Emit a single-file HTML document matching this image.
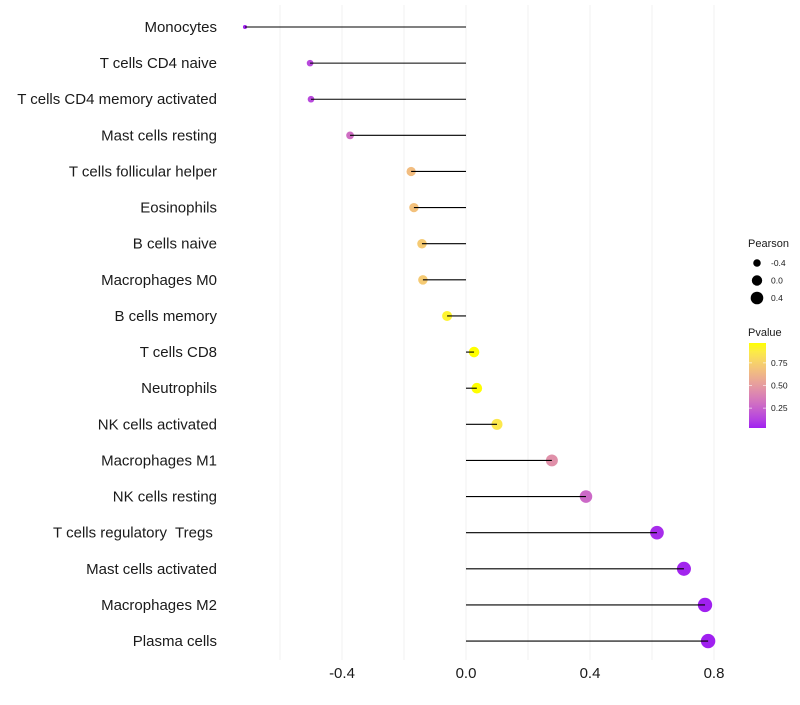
<!DOCTYPE html>
<html><head><meta charset="utf-8"><style>
body{margin:0;background:#fff}
svg{font-family:"Liberation Sans",sans-serif}
</style></head><body>
<svg id="chart" width="800" height="700"></svg>
<script>
const categories=["Monocytes","T cells CD4 naive","T cells CD4 memory activated","Mast cells resting","T cells follicular helper","Eosinophils","B cells naive","Macrophages M0","B cells memory","T cells CD8","Neutrophils","NK cells activated","Macrophages M1","NK cells resting","T cells regulatory  Tregs ","Mast cells activated","Macrophages M2","Plasma cells"];
const pearson=[-0.713,-0.503,-0.5,-0.374,-0.177,-0.168,-0.142,-0.139,-0.061,0.026,0.035,0.1,0.277,0.387,0.616,0.703,0.771,0.781];
const pvalue=[0.03,0.15,0.15,0.3,0.66,0.68,0.72,0.72,0.92,0.97,0.97,0.86,0.45,0.28,0.06,0.04,0.03,0.03];
const xTicks=[-0.4,0,0.4,0.8];
const xTickLabels=["-0.4","0.0","0.4","0.8"];
const xGrid=[-0.6,-0.4,-0.2,0,0.2,0.4,0.6,0.8];
const sizeLegend=[-0.4,0,0.4];
const sizeLegendLabels=["-0.4","0.0","0.4"];
const pTicks=[0.25,0.5,0.75];
const pTickLabels=["0.25","0.50","0.75"];

const NS="http://www.w3.org/2000/svg";
const svg=document.getElementById('chart');
function mk(t,a,p){const e=document.createElementNS(NS,t);for(const k in a)e.setAttribute(k,a[k]);(p||svg).appendChild(e);return e;}
const x=v=>466+v*310;
const y=i=>27+i*36.12;
const r=v=>Math.sqrt(Math.max(1,27+32*v));
function toLab(h){let c=[1,3,5].map(i=>parseInt(h.substr(i,2),16)/255).map(v=>v>0.04045?Math.pow((v+0.055)/1.055,2.4):v/12.92);
let X=(c[0]*0.4124+c[1]*0.3576+c[2]*0.1805)/0.95047,Y=c[0]*0.2126+c[1]*0.7152+c[2]*0.0722,Z=(c[0]*0.0193+c[1]*0.1192+c[2]*0.9505)/1.08883;
const f=t=>t>0.008856?Math.cbrt(t):7.787*t+16/116;return [116*f(Y)-16,500*(f(X)-f(Y)),200*(f(Y)-f(Z))];}
function fromLab(L){let fy=(L[0]+16)/116,fx=fy+L[1]/500,fz=fy-L[2]/200;const g=t=>t*t*t>0.008856?t*t*t:(t-16/116)/7.787;
let X=g(fx)*0.95047,Y=g(fy),Z=g(fz)*1.08883;let rgb=[X*3.2406-Y*1.5372-Z*0.4986,-X*0.9689+Y*1.8758+Z*0.0415,X*0.0557-Y*0.2040+Z*1.0570];
return 'rgb('+rgb.map(v=>{v=v>0.0031308?1.055*Math.pow(v,1/2.4)-0.055:12.92*v;return Math.round(Math.min(1,Math.max(0,v))*255)}).join(',')+')';}
const lo=toLab('#A020F0'),hi=toLab('#FFFF00');
const pMin=0.03,pMax=0.97;
function col(p){let t=Math.min(1,Math.max(0,(p-pMin)/(pMax-pMin)));return fromLab(lo.map((v,i)=>v+(hi[i]-v)*t));}

const grid=mk('g',{});
xGrid.forEach(v=>{const l=mk('line',{x1:x(v),x2:x(v),y1:5,y2:660,stroke:'#f2f2f2','stroke-width':1},grid);});
const labels=mk('g',{});
const marks=mk('g',{});
categories.forEach((c,i)=>{
 const t=mk('text',{x:217,y:y(i)+5,'text-anchor':'end','font-size':15,fill:'#1a1a1a','xml:space':'preserve'},labels);t.textContent=c;
 t.style.whiteSpace='pre';
 
 const cc=mk('circle',{cx:x(pearson[i]),cy:y(i),r:r(pearson[i]),fill:col(pvalue[i])},marks);
 
 const s=mk('line',{x1:x(0),x2:x(pearson[i]),y1:y(i),y2:y(i),stroke:'#000','stroke-width':1.1},marks);
 
});
const xa=mk('g',{});
xTicks.forEach((v,i)=>{const t=mk('text',{x:x(v),y:678,'text-anchor':'middle','font-size':15,fill:'#1a1a1a'},xa);t.textContent=xTickLabels[i];});
const sl=mk('g',{});
mk('text',{x:748,y:247,'font-size':11,fill:'#1a1a1a'},sl).textContent='Pearson';
sizeLegend.forEach((v,i)=>{const cy=263+i*17.5;
 const c=mk('circle',{cx:757,cy:cy,r:r(v),fill:'#000'},sl);
 const t=mk('text',{x:771,y:cy+3,'font-size':8.5,fill:'#1a1a1a'},sl);t.textContent=sizeLegendLabels[i];});
const cl=mk('g',{});
mk('text',{x:748,y:336,'font-size':11,fill:'#1a1a1a'},cl).textContent='Pvalue';
const defs=mk('defs',{});const gr=mk('linearGradient',{id:'pg',x1:0,y1:1,x2:0,y2:0},defs);
for(let k=0;k<=10;k++){mk('stop',{offset:k/10,'stop-color':col(pMin+(pMax-pMin)*k/10)},gr);}
const barTop=343,barBot=428;const py=p=>barBot-(p-pMin)/(pMax-pMin)*(barBot-barTop);
const bar=mk('rect',{x:749,y:barTop,width:17,height:barBot-barTop,fill:'url(#pg)'},cl);
pTicks.forEach((p,i)=>{mk('line',{x1:749,x2:752,y1:py(p),y2:py(p),stroke:'#fff','stroke-width':0.6},cl);mk('line',{x1:763,x2:766,y1:py(p),y2:py(p),stroke:'#fff','stroke-width':0.6},cl);
 const t=mk('text',{x:771,y:py(p)+3,'font-size':8.5,fill:'#1a1a1a'},cl);t.textContent=pTickLabels[i];});
</script>
</body></html>
